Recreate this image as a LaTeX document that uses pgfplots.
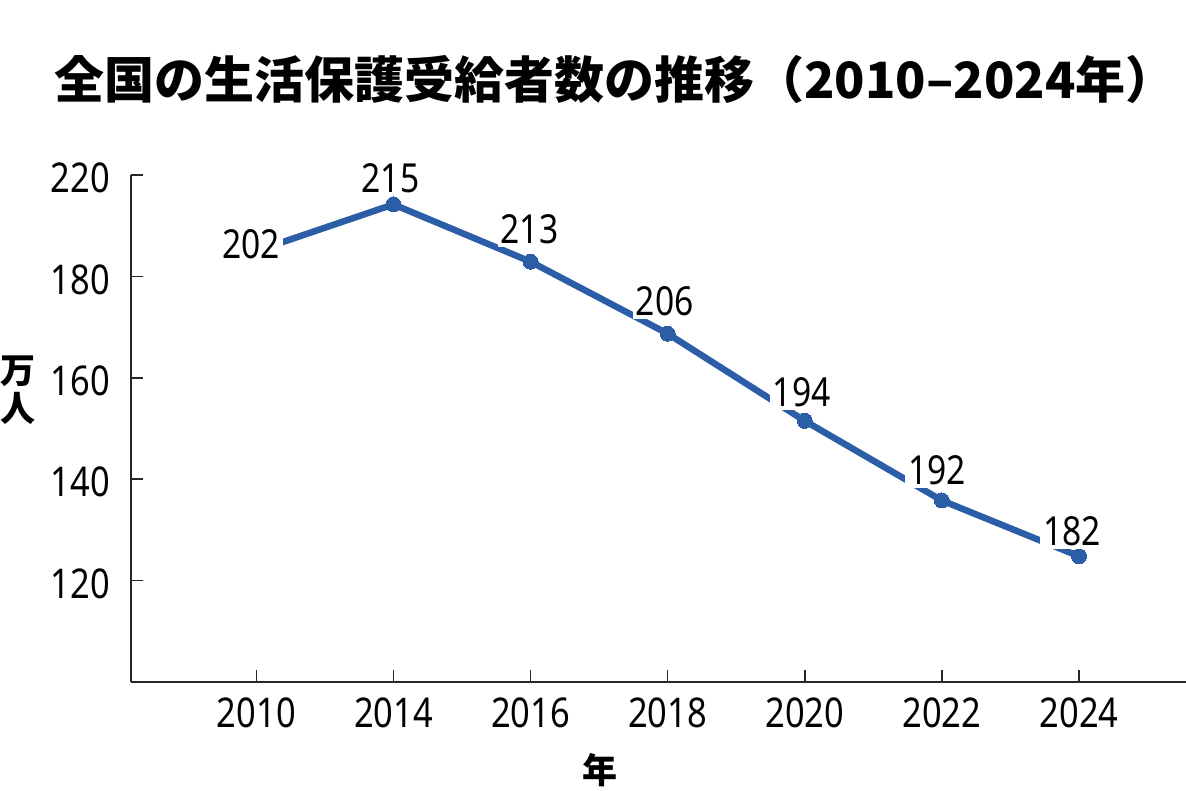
\documentclass[border=0pt]{standalone}
\usepackage{fontspec}
\setmainfont{Noto Sans CJK JP}
\newfontfamily\numfont{Noto Sans}[FakeStretch=0.84]
\newfontfamily\jpfont{Noto Sans CJK JP}
\usepackage{pgfplots}
\usepackage{pgfplotstable}
\pgfplotsset{compat=1.18}
\usetikzlibrary{calc}
\definecolor{lineblue}{RGB}{43,94,167}

\pgfplotstableread{
x y
0 185.0
1 194.2
2 182.9
3 168.7
4 151.5
5 135.8
6 124.8
}\series

\pgfplotstableread{
x y label dx dy
0 185.0 202 -5 7
1 194.2 215 -3 26
2 182.9 213 -1 32
3 168.7 206 -3 32
4 151.5 194 -3 29
5 135.8 192 -5 30
6 124.8 182 -7 25
}\labels

\begin{document}
\begin{tikzpicture}
\begin{axis}[
  scale only axis, width=1055pt, height=507pt,
  xmin=-0.914, xmax=6.78, ymin=100, ymax=200,
  axis x line=bottom, axis y line=left,
  every outer x axis line/.append style={-},
  every outer y axis line/.append style={-},
  axis line style={line width=1.8pt, black!85, -},
  xtick={0,...,6}, xticklabels={2010,2014,2016,2018,2020,2022,2024},
  ytick={120,140,160,180,200}, yticklabels={120,140,160,180,220},
  tick style={line width=1.5pt, black!85},
  major tick length=12pt, tick align=inside,
  tick label style={font=\fontsize{41}{41}\selectfont\numfont},
  xticklabel style={anchor=north, inner sep=0pt, yshift=-16pt},
  yticklabel style={anchor=east, inner sep=0pt, xshift=-21pt, yshift=-3pt},
  xlabel={年},
  xlabel style={at={(rel axis cs:0.4445,0)}, anchor=center, yshift=-88pt, font=\fontsize{35}{35}\selectfont\bfseries},
  ylabel={万\\人},
  ylabel style={rotate=-90, at={(rel axis cs:0,0.576)}, anchor=center, xshift=-113pt, align=center, font=\fontsize{35}{38}\selectfont\bfseries},
  title={全国の生活保護受給者数の推移（2010–2024年）},
  title style={at={(rel axis cs:0.4493,1)}, anchor=center, yshift=89pt, xshift=10pt, font=\fontsize{50}{50}\selectfont\bfseries},
  clip=false,
]
\addplot[lineblue, line width=6.5pt, line join=round, mark=*, mark size=7.5pt,
  mark options={fill=lineblue, draw=lineblue, line width=0pt}] table[x=x,y=y] {\series};
\addplot[draw=none, mark=none, nodes near coords, point meta=explicit symbolic,
  visualization depends on={\thisrow{dx} \as \dx},
  visualization depends on={\thisrow{dy} \as \dy},
  nodes near coords style={anchor=center, xshift=\dx pt, yshift=\dy pt, fill=white, inner sep=3pt, text=black,
    font=\fontsize{40}{40}\selectfont\numfont}]
  table[x=x, y=y, meta=label] {\labels};
\end{axis}
\pgfresetboundingbox
\path ($(current axis.south west)+(-131pt,-108pt)$) rectangle ($(current axis.south west)+(1055pt,682pt)$);
\end{tikzpicture}
\end{document}
